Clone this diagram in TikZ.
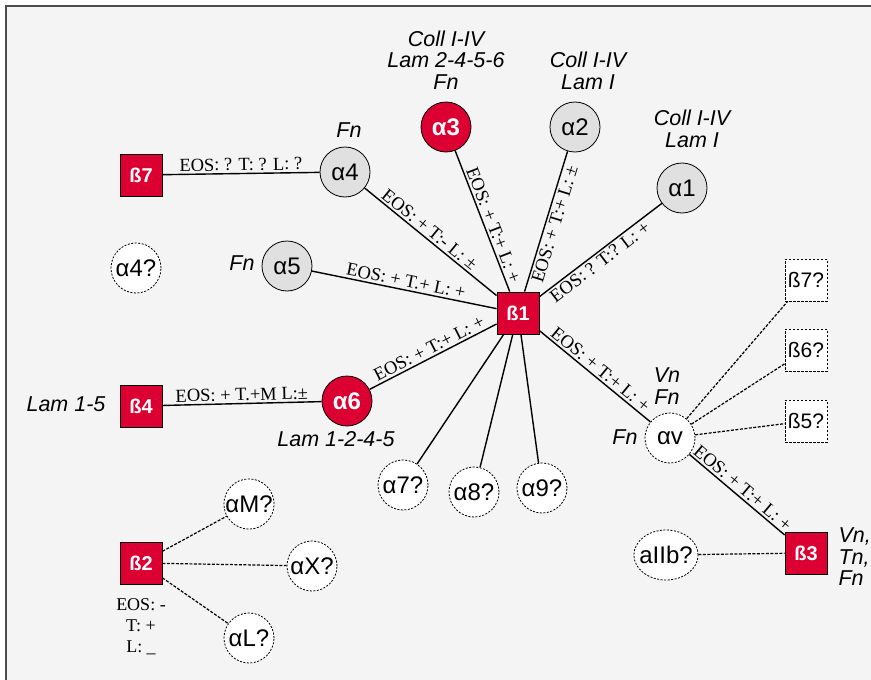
\documentclass[tikz,border=0pt]{standalone}
\usepackage{fontspec}
\setmainfont{Liberation Sans}
\newfontfamily\timesfont{Liberation Serif}
\usetikzlibrary{shapes.geometric}
\definecolor{boxred}{RGB}{220,0,50}
\definecolor{alphagray}{RGB}{224,224,224}
\definecolor{paper}{RGB}{244,244,244}
\tikzset{
  alphanode/.style={circle,draw,fill=alphagray,minimum size=50pt,inner sep=0pt,line width=0.8pt,font=\fontsize{24}{24}\selectfont},
  alphared/.style={alphanode,fill=boxred,text=white,font=\fontsize{24}{24}\selectfont\bfseries},
  alphaq/.style={alphanode,fill=white,dash pattern=on 2pt off 1.5pt},
  betanode/.style={rectangle,draw,fill=boxred,text=white,minimum size=42pt,inner sep=0pt,line width=0.8pt,font=\fontsize{20}{20}\selectfont\bfseries},
  betaq/.style={rectangle,draw,fill=white,dash pattern=on 2.5pt off 1.5pt,minimum size=42pt,inner sep=0pt,line width=0.8pt,font=\fontsize{21}{21}\selectfont},
  link/.style={line width=1.4pt},
  qlink/.style={line width=1.2pt,dash pattern=on 3pt off 1.5pt},
  edgelab/.style={font=\timesfont\fontsize{18.5}{21}\selectfont,sloped,midway,inner sep=2pt},
  ligand/.style={font=\fontsize{21.5}{21.5}\selectfont\itshape,align=center},
}
\begin{document}
\begin{tikzpicture}[x=1pt,y=-1pt]
\useasboundingbox (0,0) rectangle (871,680) ;
\draw [fill=paper,draw=black!70,line width=1.5pt] (6,6) rectangle (900,710) ;
% integrins
\node [betanode] (b1) at (518,313) {ß1} ;
\node [alphared] (a3) at (446,127) {α3} ;
\node [alphanode] (a2) at (575,127) {α2} ;
\node [alphanode] (a1) at (682,188) {α1} ;
\node [alphanode] (a4) at (345,172) {α4} ;
\node [alphanode] (a5) at (287,266) {α5} ;
\node [alphared] (a6) at (347,401) {α6} ;
\node [alphaq] (a7q) at (403,485) {α7?} ;
\node [alphaq] (a8q) at (474,492) {α8?} ;
\node [alphaq] (a9q) at (542,488) {α9?} ;
\node [alphaq] (a4q) at (136,268) {α4?} ;
\node [alphaq] (av) at (670,438) {αv} ;
\node [betanode] (b7) at (141,175) {ß7} ;
\node [betanode] (b4) at (141,406) {ß4} ;
\node [betanode] (b2) at (141,563) {ß2} ;
\node [betanode] (b3) at (806,553) {ß3} ;
\node [betaq] (b7q) at (806,280) {ß7?} ;
\node [betaq] (b6q) at (806,350) {ß6?} ;
\node [betaq] (b5q) at (806,421) {ß5?} ;
\node [alphaq,ellipse,inner xsep=-4pt,minimum width=64pt,minimum height=50pt] (aIIb) at (666,555) {aIIb?} ;
\node [alphaq] (aMq) at (249,504) {αM?} ;
\node [alphaq] (aXq) at (312,566) {αX?} ;
\node [alphaq] (aLq) at (249,638) {αL?} ;
% ligands
\node [ligand] (lig3) at (446,60) {Coll I-IV\\Lam 2-4-5-6\\Fn} ;
\node [ligand] (lig2) at (588,71) {Coll I-IV\\Lam I} ;
\node [ligand] (lig1) at (692,129) {Coll I-IV\\Lam I} ;
\node [ligand] (lig4) at (349,130) {Fn} ;
\node [ligand] (lig5) at (242,263) {Fn} ;
\node [ligand] (lig6) at (336,439) {Lam 1-2-4-5} ;
\node [ligand] (ligb4) at (66,404) {Lam 1-5} ;
\node [ligand] (ligv) at (667,386) {Vn\\Fn} ;
\node [ligand] (ligvl) at (625,437) {Fn} ;
\node [ligand,align=left,anchor=west] (ligb3) at (835,557) {Vn,\\Tn,\\Fn} ;
\node [font=\timesfont\fontsize{18}{21}\selectfont,align=center] (labb2) at (141,627) {EOS: -\\T: +\\L: \_} ;
% links
\draw [link] (b7) -- (a4) node [edgelab,above] {EOS: ? T: ? L: ?} ;
\draw [link] (b4) -- (a6) node [edgelab,above] {EOS: + T.+M L:±} ;
\draw [link] (a4) -- (b1) node [edgelab,above,pos=0.45] {EOS: + T:- L: ±} ;
\draw [link] (a5) -- (b1) node [edgelab,above] {EOS: + T.+ L: +} ;
\draw [link] (a3) -- (b1) node [edgelab,above,pos=0.55] {EOS: + T:+ L: +} ;
\draw [link] (b1) -- (a2) node [edgelab,below] {EOS: + T:+ L: ±} ;
\draw [link] (b1) -- (a1) node [edgelab,below,pos=0.45] {EOS: ? T:? L: +} ;
\draw [link] (a6) -- (b1) node [edgelab,above] {EOS: + T:+ L: +} ;
\draw [link] (b1) -- (av) node [edgelab,above] {EOS: + T:+ L: +} ;
\draw [link] (av) -- (b3) node [edgelab,above] {EOS: + T:+ L: +} ;
\draw [link] (b1) -- (a7q) ;
\draw [link] (b1) -- (a8q) ;
\draw [link] (b1) -- (a9q) ;
\draw [qlink] (av) -- (b7q) ;
\draw [qlink] (av) -- (b6q) ;
\draw [qlink] (av) -- (b5q) ;
\draw [qlink] (aIIb) -- (b3) ;
\draw [qlink] (b2) -- (aMq) ;
\draw [qlink] (b2) -- (aXq) ;
\draw [qlink] (b2) -- (aLq) ;
\end{tikzpicture}
\end{document}
